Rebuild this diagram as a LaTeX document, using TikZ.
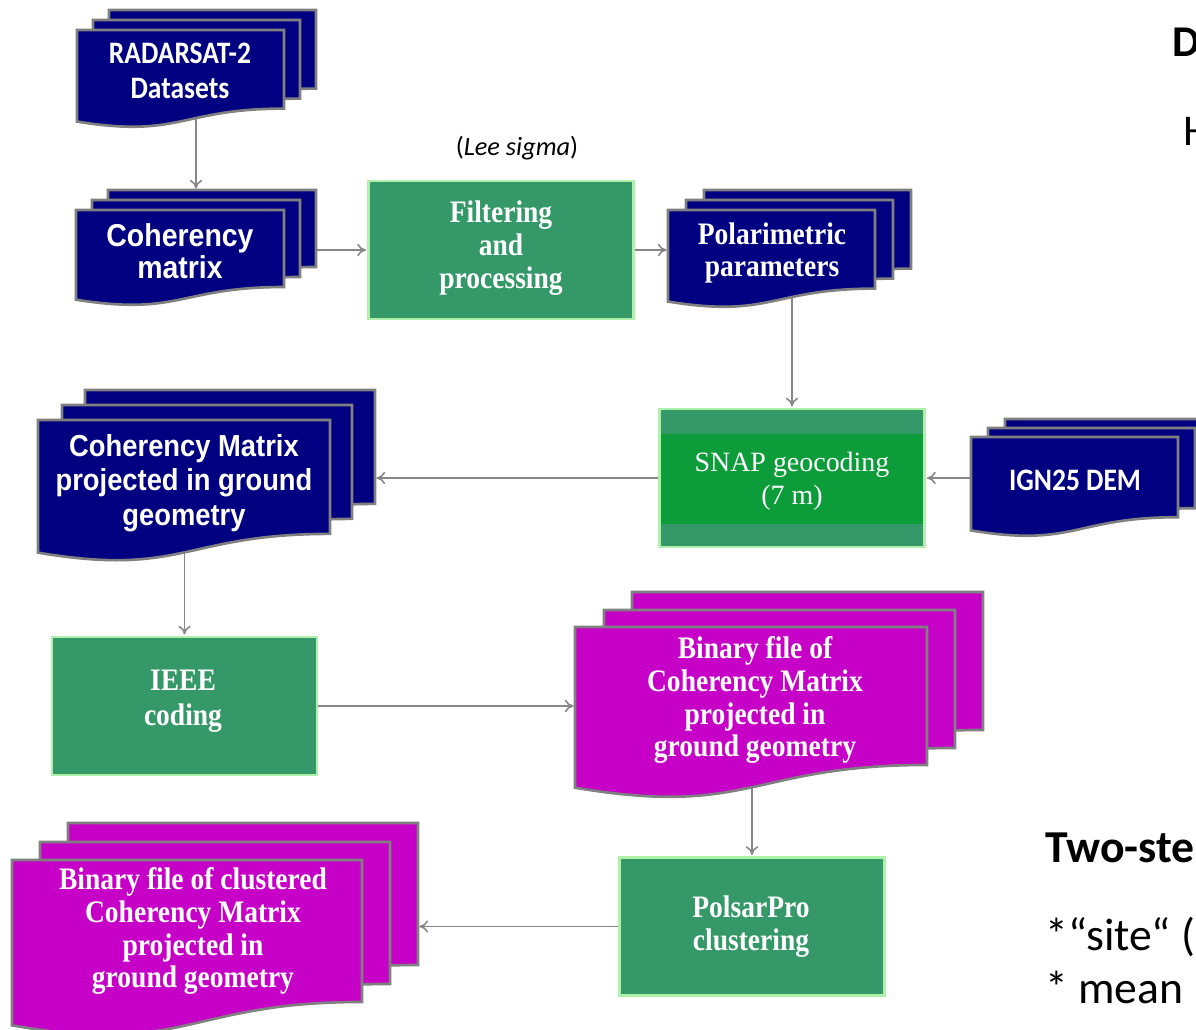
\documentclass[tikz,border=0pt]{standalone}
\usepackage{fontspec}
\setmainfont{Liberation Serif}
\newfontfamily\serifn[FakeStretch=0.88]{Liberation Serif}
\newfontfamily\carl{Carlito}
\newfontfamily\carln[FakeStretch=0.88]{Carlito}
\newfontfamily\lsansn[FakeStretch=0.9]{Liberation Sans}
\usetikzlibrary{arrows.meta,backgrounds}
\definecolor{navy}{RGB}{0,0,128}
\definecolor{magen}{RGB}{198,0,198}
\definecolor{teal2}{RGB}{52,152,104}
\definecolor{snapg}{RGB}{12,156,58}
\definecolor{glow}{RGB}{175,240,170}
\definecolor{pageline}{RGB}{128,128,128}
\definecolor{connc}{RGB}{135,135,135}
\tikzset{
  pagestyle/.style={draw=pageline, line width=1.5pt, line join=miter},
  pagebox/.style={inner sep=0pt, outer sep=0pt, draw=none},
  gbox/.style={fill=teal2, draw=glow, line width=1.3pt, minimum width=5.3cm, minimum height=2.76cm, inner sep=0pt},
  serifw/.style={text=white, align=center, inner sep=0pt, font=\serifn\bfseries\fontsize{17.8}{18.7}\selectfont},
  carlw/.style={text=white, align=center, inner sep=0pt, font=\carln\bfseries\fontsize{17.8}{19.8}\selectfont},
  lsansw/.style={text=white, align=center, inner sep=0pt, font=\lsansn\bfseries\fontsize{17.3}{19.8}\selectfont},
  sidetxt/.style={anchor=base west, inner sep=0pt, text=black},
  conn/.style={draw=connc, line width=0.9pt, -{To[length=5pt,width=7pt]}, shorten >=0.8pt},
}
\newcommand\docpage[6]{%
  \filldraw[pagestyle, fill=#6] (#2,#3) -- ({#2+#4},#3) -- ({#2+#4},{#3+0.802*#5})
    .. controls ({#2+0.5*#4},{#3+0.802*#5}) and ({#2+0.5*#4},{#3+1.107*#5}) .. (#2,{#3+0.934*#5}) -- cycle;
  \node[pagebox, minimum width={#4*0.02cm}, minimum height={0.802*#5*0.02cm}] (#1) at ({#2+0.5*#4},{#3+0.401*#5}) {};}
\begin{document}
\begin{tikzpicture}[x=0.02cm, y=-0.02cm]
\useasboundingbox (0,0) rectangle (1196,1029);
\clip (0,0) rectangle (1196,1029);

% RADARSAT-2 datasets
\docpage{radB}{109}{10}{207}{98}{navy}
\docpage{radM}{93}{20}{207}{98}{navy}
\docpage{radF}{77}{30}{207}{98}{navy}
\node[carlw] (radT) at (180,71) {RADARSAT-2\\Datasets};

% Coherency matrix
\docpage{cohB}{108}{190}{208}{96}{navy}
\docpage{cohM}{92}{200}{208}{96}{navy}
\docpage{cohF}{76}{210}{208}{96}{navy}
\node[lsansw, font=\lsansn\bfseries\fontsize{18}{18.4}\selectfont] (cohT) at (180,251) {Coherency\\matrix};

% Filtering
\node[gbox] (filt) at (501,250) {};
\node[serifw] (filtT) at (501,248) {Filtering\\and\\processing};
\node[inner sep=0pt, font=\carl\fontsize{15}{17}\selectfont] (lee) at (517,148) {(\textit{Lee sigma})};

% Polarimetric parameters
\docpage{polB}{704}{190}{207}{98}{navy}
\docpage{polM}{686}{200}{207}{98}{navy}
\docpage{polF}{668}{210}{207}{98}{navy}
\node[serifw] (polT) at (772,253) {Polarimetric\\parameters};

% SNAP geocoding
\node[gbox, path picture={\fill[snapg] ([yshift=-0.5cm]path picture bounding box.north west) rectangle ([yshift=0.46cm]path picture bounding box.south east);}]
  (snap) at (792,478) {};
\node[text=white, align=center, inner sep=0pt, font=\fontsize{15.9}{18.7}\selectfont] (snapT) at (792,481) {SNAP geocoding\\(7 m)};

% IGN25 DEM
\docpage{demB}{1005}{419}{207}{100}{navy}
\docpage{demM}{988}{428}{207}{100}{navy}
\docpage{demF}{971}{437}{207}{100}{navy}
\node[carlw] (demT) at (1075,480) {IGN25 DEM};

% Coherency Matrix projected
\docpage{cmpB}{85}{390}{290}{142}{navy}
\docpage{cmpM}{62}{405}{290}{142}{navy}
\docpage{cmpF}{38}{420}{292}{142}{navy}
\node[lsansw] (cmpT) at (184,483) {Coherency Matrix\\projected in ground\\geometry};

% IEEE coding
\node[gbox] (ieee) at (184.5,706) {};
\node[serifw, font=\serifn\bfseries\fontsize{17.8}{19.8}\selectfont] (ieeeT) at (183,701) {IEEE\\coding};

% Binary file
\docpage{binB}{632}{592}{351}{172}{magen}
\docpage{binM}{604}{610}{351}{172}{magen}
\docpage{binF}{575}{627}{352}{172}{magen}
\node[serifw] (binT) at (755,700) {Binary file of\\Coherency Matrix\\projected in\\ground geometry};

% PolsarPro clustering
\node[gbox] (pols) at (752,926.5) {};
\node[serifw] (polsT) at (751,927) {PolsarPro\\clustering};

% Binary file of clustered
\docpage{cluB}{68}{823}{350}{177}{magen}
\docpage{cluM}{40}{842}{350}{177}{magen}
\docpage{cluF}{12}{860}{350}{177}{magen}
\node[serifw] (cluT) at (193,931) {Binary file of clustered\\Coherency Matrix\\projected in\\ground geometry};

% right-side text fragments (cut by the picture's edge, as in the reference)
\node[sidetxt, font=\carl\bfseries\fontsize{25}{28}\selectfont] (sD) at (1172,56) {D};
\node[sidetxt, font=\carl\fontsize{25}{28}\selectfont] (sH) at (1183,145) {H};
\node[sidetxt, font=\carl\bfseries\fontsize{26}{28}\selectfont] (sTwo) at (1045,862) {Two-ste};
\node[sidetxt, font=\carl\fontsize{26}{28}\selectfont] (sSite) at (1045,950) {*“site“ (};
\node[sidetxt, font=\carl\fontsize{26}{28}\selectfont] (sMean) at (1045,1003) {* mean};

% connectors
\begin{scope}[on background layer]
\draw[conn] (cohM.north |- radF.south) -- (cohM.north |- cohB.north);
\draw[conn] (filt.west -| cohB.east) -- (filt.west);
\draw[conn] (filt.east) -- (filt.east -| polF.west);
\draw[conn] (snap.north |- polF.south) -- (snap.north);
\draw[conn] (snap.east -| demF.west) -- (snap.east);
\draw[conn] (snap.west) -- (snap.west -| cmpB.east);
\draw[conn] (ieee.north |- cmpF.south) -- (ieee.north);
\draw[conn] (ieee.east) -- (ieee.east -| binF.west);
\draw[conn] (pols.north |- binF.south) -- (pols.north);
\draw[conn] (pols.west) -- (pols.west -| cluB.east);
\end{scope}
\end{tikzpicture}
\end{document}
